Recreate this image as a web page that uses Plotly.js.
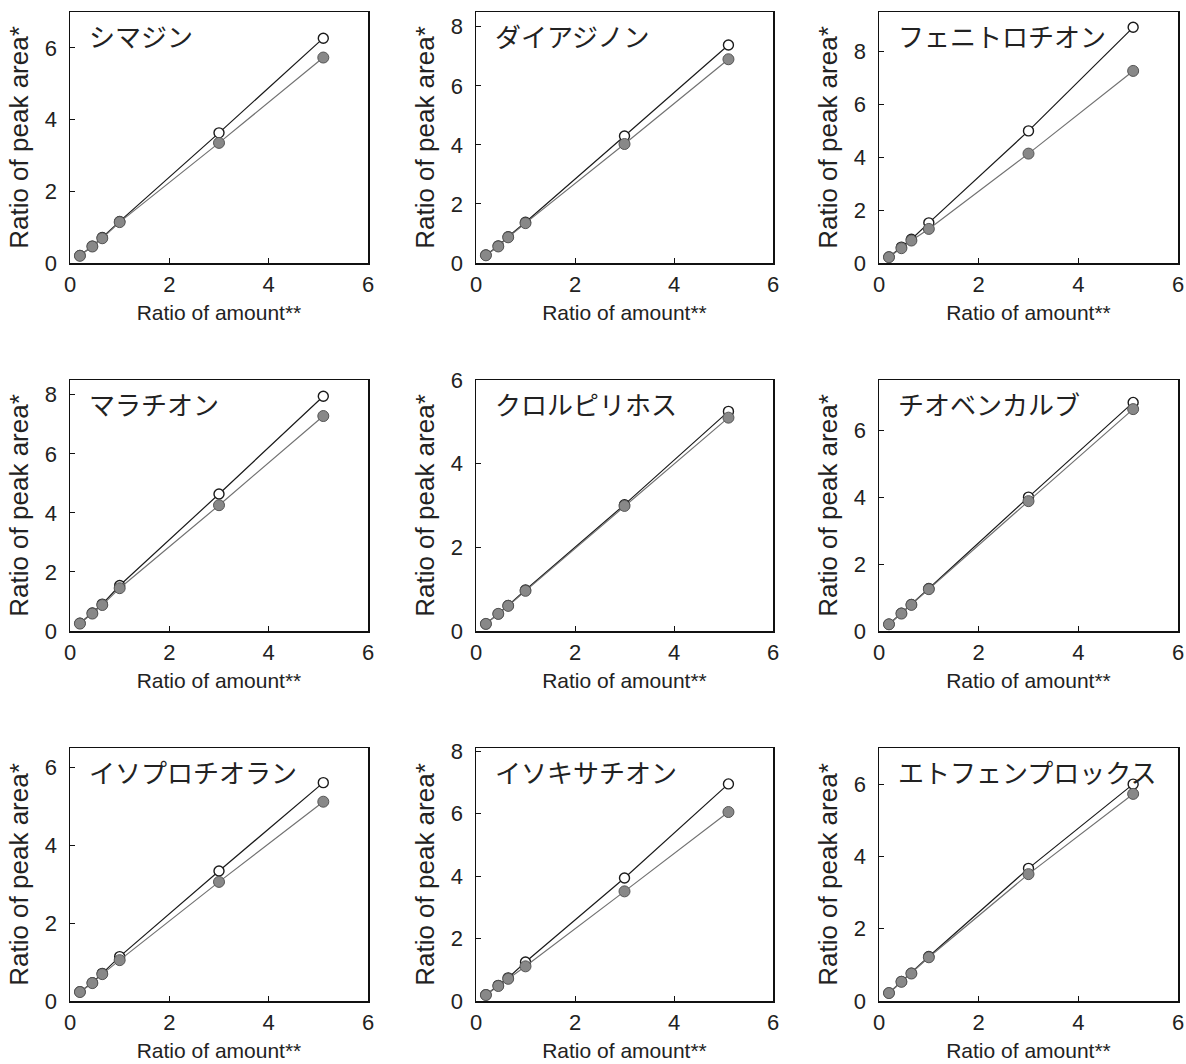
<!DOCTYPE html>
<html>
<head>
<meta charset="utf-8">
<script src="https://cdn.plot.ly/plotly-3.0.1.min.js"></script>
<style>html,body{margin:0;padding:0;background:#fff;}#chart{width:1186px;height:1064px;}</style>
</head>
<body>
<div id="chart"></div>
<script>
// Ratio of amount** (x values shared by all panels)
const xAmount = [0.2, 0.45, 0.65, 1, 3, 5.1];

const compounds = ['シマジン', 'ダイアジノン', 'フェニトロチオン', 'マラチオン', 'クロルピリホス', 'チオベンカルブ', 'イソプロチオラン', 'イソキサチオン', 'エトフェンプロックス'];

// open circles (○) and filled circles (●): Ratio of peak area*
const openSimazine       = [0.21, 0.47, 0.71, 1.16, 3.63, 6.27];
const filledSimazine     = [0.20, 0.46, 0.69, 1.14, 3.35, 5.73];
const openDiazinon       = [0.27, 0.58, 0.89, 1.38, 4.30, 7.38];
const filledDiazinon     = [0.26, 0.56, 0.87, 1.35, 4.03, 6.90];
const openFenitrothion   = [0.23, 0.60, 0.90, 1.52, 5.00, 8.92];
const filledFenitrothion = [0.22, 0.56, 0.85, 1.29, 4.14, 7.27];
const openMalathion      = [0.26, 0.61, 0.91, 1.54, 4.64, 7.95];
const filledMalathion    = [0.25, 0.59, 0.88, 1.45, 4.26, 7.28];
const openChlorpyrifos   = [0.17, 0.41, 0.61, 0.98, 3.02, 5.25];
const filledChlorpyrifos = [0.17, 0.41, 0.60, 0.96, 2.99, 5.10];
const openThiobencarb    = [0.20, 0.53, 0.79, 1.27, 4.00, 6.83];
const filledThiobencarb  = [0.20, 0.52, 0.78, 1.25, 3.88, 6.63];
const openIsoprothiolane   = [0.24, 0.47, 0.71, 1.14, 3.34, 5.61];
const filledIsoprothiolane = [0.23, 0.46, 0.69, 1.05, 3.06, 5.12];
const openIsoxathion     = [0.20, 0.50, 0.74, 1.25, 3.94, 6.95];
const filledIsoxathion   = [0.19, 0.48, 0.71, 1.11, 3.51, 6.05];
const openEtofenprox     = [0.22, 0.54, 0.77, 1.23, 3.67, 6.00];
const filledEtofenprox   = [0.22, 0.53, 0.76, 1.21, 3.51, 5.73];

const openSeries = [openSimazine, openDiazinon, openFenitrothion, openMalathion, openChlorpyrifos, openThiobencarb, openIsoprothiolane, openIsoxathion, openEtofenprox];
const filledSeries = [filledSimazine, filledDiazinon, filledFenitrothion, filledMalathion, filledChlorpyrifos, filledThiobencarb, filledIsoprothiolane, filledIsoxathion, filledEtofenprox];

const xTickVals = [0, 2, 4, 6];
const xTickText = ['0', '2', '4', '6'];
const yMax = [7, 8.5, 9.5, 8.5, 6, 7.5, 6.5, 8.1, 7];

const xTitle = 'Ratio of amount**';
const yTitle = 'Ratio of peak area*';

// layout geometry (pixels)
const W = 1186, H = 1064;
const colPx = [[70, 368], [476, 773], [879, 1178]];
const rowPx = [[12, 263], [380, 631], [748, 1001]];

const FONT = 'Liberation Sans, Arial, Helvetica, sans-serif';
const JFONT = 'Noto Sans CJK JP, sans-serif';

const data = [];
const layout = {
  width: W, height: H,
  margin: {l: 0, r: 0, t: 0, b: 0},
  paper_bgcolor: '#fff', plot_bgcolor: '#fff',
  showlegend: false,
  annotations: []
};

for (let i = 0; i < 9; i++) {
  const r = Math.floor(i / 3), c = i % 3;
  const sfx = i === 0 ? '' : String(i + 1);
  const xa = 'x' + sfx, ya = 'y' + sfx;
  data.push({
    x: xAmount, y: openSeries[i], xaxis: xa, yaxis: ya,
    type: 'scatter', mode: 'lines+markers', cliponaxis: false,
    line: {color: '#1a1a1a', width: 1.2},
    marker: {symbol: 'circle', size: 10, color: '#ffffff', line: {color: '#1a1a1a', width: 1.4}}
  });
  data.push({
    x: xAmount, y: filledSeries[i], xaxis: xa, yaxis: ya,
    type: 'scatter', mode: 'lines+markers', cliponaxis: false,
    line: {color: '#727272', width: 1.2},
    marker: {symbol: 'circle', size: 11, color: '#888888', line: {color: '#555555', width: 1}}
  });
  const xd = [colPx[c][0] / W, colPx[c][1] / W];
  const yd = [1 - rowPx[r][1] / H, 1 - rowPx[r][0] / H];
  const axCommon = {
    showline: true, mirror: true, linecolor: '#111', linewidth: 1.5,
    ticks: 'inside', ticklen: 5, tickwidth: 1, tickcolor: '#111',
    showgrid: false, zeroline: false, fixedrange: true,
    tickfont: {family: FONT, size: 22, color: '#222'}
  };
  layout['xaxis' + sfx] = Object.assign({}, axCommon, {
    domain: xd, anchor: ya, range: [0, 6],
    tickvals: xTickVals, ticktext: xTickText, ticklabelstandoff: 1,
    title: {text: xTitle, font: {family: FONT, size: 21, color: '#222'}, standoff: 9}
  });
  layout['yaxis' + sfx] = Object.assign({}, axCommon, {
    domain: yd, anchor: xa, range: [0, yMax[i]], dtick: 2, tick0: 0,
    ticklabelstandoff: 7,
    title: {text: yTitle, font: {family: FONT, size: 26, color: '#222'}, standoff: 8}
  });
  layout.annotations.push({
    xref: 'paper', yref: 'paper',
    x: (colPx[c][0] + 17) / W, y: 1 - (rowPx[r][0] + 23) / H,
    xanchor: 'left', yanchor: 'middle', showarrow: false,
    text: compounds[i],
    font: {family: JFONT, size: 26, color: '#222'}
  });
}

Plotly.newPlot('chart', data, layout, {staticPlot: true, displayModeBar: false});
</script>
</body>
</html>
